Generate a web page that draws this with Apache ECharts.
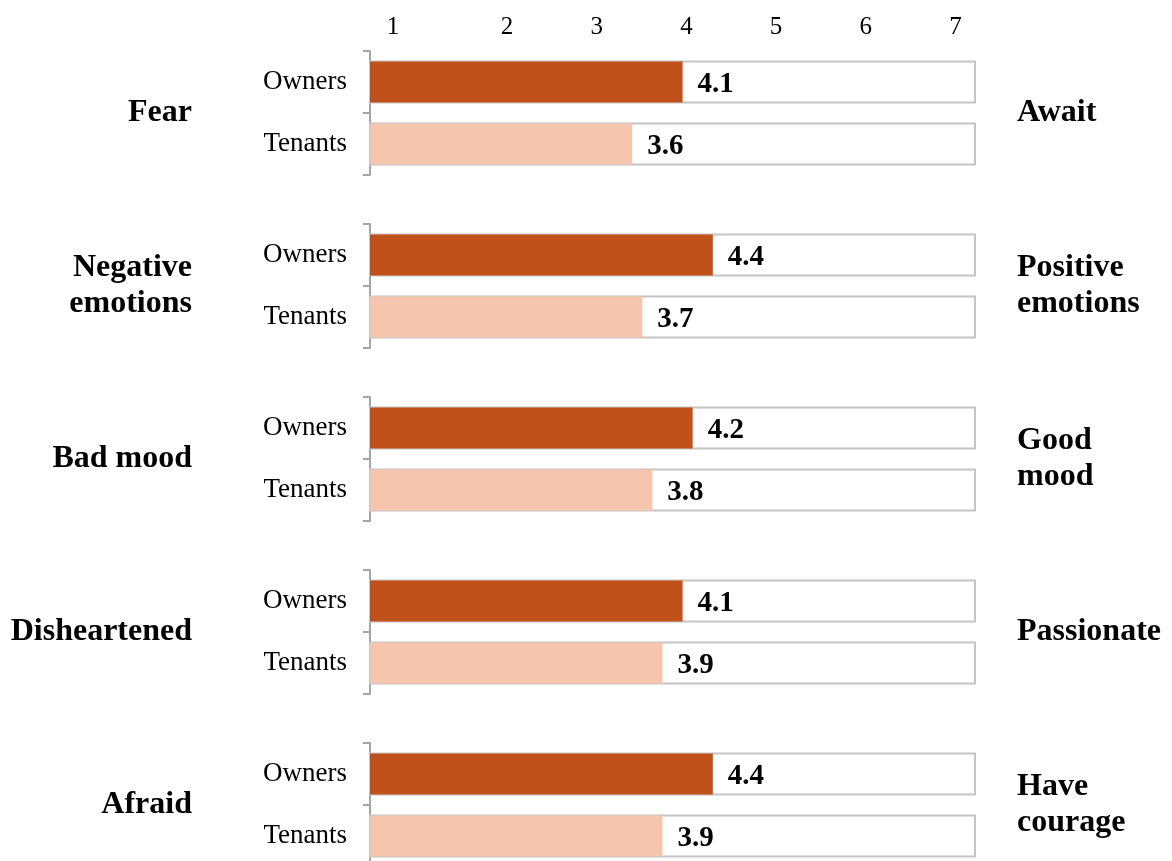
<!DOCTYPE html>
<html>
<head>
<meta charset="utf-8">
<title>Owners vs Tenants</title>
<script src="https://cdn.jsdelivr.net/npm/echarts@6/dist/echarts.min.js"></script>
<style>
  html, body { margin: 0; padding: 0; background: #ffffff; }
  #chart { width: 1172px; height: 861px; }
</style>
</head>
<body>
<div id="chart"></div>
<script>
// Semantic scale pairs (left pole / right pole)
const leftPoles  = ['Fear', 'Negative\nemotions', 'Bad mood', 'Disheartened', 'Afraid'];
const rightPoles = ['Await', 'Positive\nemotions', 'Good\nmood', 'Passionate', 'Have\ncourage'];
const groups = ['Owners', 'Tenants'];
const ownersValues  = [4.1, 4.4, 4.2, 4.1, 4.4];
const tenantsValues = [3.6, 3.7, 3.8, 3.9, 3.9];

// Header ruler labels and where each one sits on the header ruler
const tickLabels = ['1', '2', '3', '4', '5', '6', '7'];
const tickLabelSpots = [0.73, 2, 3, 4, 5, 6, 7];

const FONT = '"Liberation Serif", "Times New Roman", serif';
const DARK = '#C0511A';
const LIGHT = '#F5C6AD';
const AXIS_GRAY = '#A6A6A6';

const PANEL_TOP = 51, PANEL_STEP = 173, PANEL_H = 124;
const grids = [], xAxes = [], yAxes = [], series = [];

leftPoles.forEach((name, i) => {
  grids.push({
    left: 370, right: 197, top: PANEL_TOP + i * PANEL_STEP, height: PANEL_H,
    outerBoundsMode: 'none'
  });
  xAxes.push({ gridIndex: i, type: 'value', min: 1, max: 7, show: false });
  // left axis: group labels + left pole name
  yAxes.push({
    gridIndex: i, type: 'category', data: groups, inverse: true, position: 'left',
    axisLine: { show: true, lineStyle: { color: AXIS_GRAY, width: 2 } },
    axisTick: { show: true, length: 7, lineStyle: { color: AXIS_GRAY, width: 2 } },
    axisLabel: { fontFamily: FONT, fontSize: 27, color: '#000', margin: 23, padding: [4, 0, 0, 0] },
    name: name, nameLocation: 'middle', nameRotate: 0, nameGap: 178,
    nameTextStyle: { fontFamily: FONT, fontSize: 32, fontWeight: 'bold', color: '#000',
                     align: 'right', verticalAlign: 'middle', lineHeight: 36 }
  });
  // right axis: right pole name only
  yAxes.push({
    gridIndex: i, type: 'category', data: groups, inverse: true, position: 'right',
    axisLine: { show: false }, axisTick: { show: false }, axisLabel: { show: false },
    name: rightPoles[i], nameLocation: 'middle', nameRotate: 0, nameGap: 42,
    nameTextStyle: { fontFamily: FONT, fontSize: 32, fontWeight: 'bold', color: '#000',
                     align: 'left', verticalAlign: 'middle', lineHeight: 36 }
  });
  series.push({
    type: 'bar', xAxisIndex: i, yAxisIndex: 2 * i, barWidth: 41,
    showBackground: true,
    backgroundStyle: { color: '#ffffff', borderColor: '#C4C4C4', borderWidth: 2 },
    data: [
      { value: ownersValues[i], itemStyle: { color: DARK } },
      { value: tenantsValues[i], itemStyle: { color: LIGHT } }
    ],
    label: {
      show: true, position: 'right', distance: 15, offset: [0, 3],
      fontFamily: FONT, fontSize: 29, fontWeight: 'bold', color: '#000',
      formatter: p => p.value.toFixed(1)
    },
    animation: false
  });
});

// header ruler above the first panel
xAxes.push({
  gridIndex: 0, type: 'value', position: 'top', min: 0.473, max: 7.217,
  axisLine: { show: false }, axisTick: { show: false }, splitLine: { show: false },
  axisLabel: {
    customValues: tickLabelSpots, margin: 11,
    fontFamily: FONT, fontSize: 25, color: '#000',
    formatter: v => tickLabels[tickLabelSpots.indexOf(v)]
  }
});

const chart = echarts.init(document.getElementById('chart'), null, { renderer: 'canvas' });
chart.setOption({
  backgroundColor: '#ffffff',
  animation: false,
  grid: grids, xAxis: xAxes, yAxis: yAxes, series: series
});
</script>
</body>
</html>
